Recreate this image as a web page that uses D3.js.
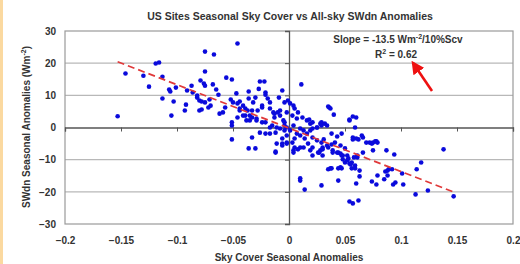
<!DOCTYPE html>
<html>
<head>
<meta charset="utf-8">
<script src="https://cdn.jsdelivr.net/npm/d3@7"></script>
<style>
  body { margin: 0; background: #fff; }
  svg { display: block; font-family: "Liberation Sans", Arial, sans-serif; }
  .tick text { font-weight: bold; fill: #333; }
</style>
</head>
<body>
<svg id="chart"></svg>
<script>
// *********************************************
// DATA
// *********************************************
var xTicks = [-0.2, -0.15, -0.1, -0.05, 0, 0.05, 0.1, 0.15, 0.2];
var yTicks = [-30, -20, -10, 0, 10, 20, 30];

// sky cover anomaly, SWdn anomaly
var skyCover = [
  -0.153,-0.146,-0.130,-0.125,-0.119,-0.116,-0.113,-0.113,-0.107,-0.106,-0.103,-0.105,-0.101,-0.092,-0.093,-0.091,-0.087,-0.086,-0.082,-0.080,-0.080,-0.079,
  -0.046,-0.075,-0.067,-0.075,-0.056,-0.051,-0.076,-0.075,-0.068,-0.065,-0.082,-0.078,-0.075,-0.071,-0.072,-0.078,-0.062,-0.059,-0.057,-0.052,-0.050,-0.047,-0.044,-0.041,-0.039,-0.036,-0.036,-0.032,-0.030,-0.026,-0.022,-0.021,-0.021,-0.019,-0.017,-0.024,-0.028,-0.033,-0.035,-0.044,-0.046,-0.039,-0.038,-0.051,-0.051,-0.029,-0.024,-0.017,-0.014,-0.013,-0.010,-0.008,-0.006,-0.004,-0.002,
  -0.033,-0.051,-0.036,-0.030,-0.012,-0.011,-0.006,-0.002,-0.026,-0.021,-0.017,-0.012,-0.015,-0.011,-0.008,
  -0.035,-0.033,-0.029,-0.037,-0.041,-0.044,-0.046,-0.021,-0.017,-0.005,-0.004,-0.008,-0.013,-0.024,
  0.011,-0.004,-0.001,0.001,0.004,0.005,0.008,0.036,0.037,0.057,0.054,0.059,0.038,0.047,0.057,0.060,0.065,0.069,0.072,0.079,
  0.028,0.029,0.025,0.021,0.019,0.010,0.013,0.016,0.010,-0.004,-0.002,-0.006,-0.002,0.003,0.005,
  0.021,0.025,0.029,0.030,0.028,0.035,0.039,0.043,0.046,0.048,0.050,0.054,0.037,0.038,0.044,0.047,0.056,0.059,0.056,0.063,0.010,
  -0.002,0.003,0.007,0.012,0.016,0.019,0.021,0.025,0.029,0.032,0.034,0.004,0.001,0.007,0.005,0.014,0.017,0.010,0.004,0.021,0.026,0.030,0.041,0.046,0.050,0.052,0.053,0.061,0.066,
  0.010,0.014,0.029,0.044,0.054,0.057,0.062,0.060,0.063,0.074,0.078,0.079,0.085,0.088,0.086,0.088,0.089,0.093,0.095,0.102,0.101,0.113,0.114,0.118,0.124,0.138,0.147,
  0.087,0.094,0.078,0.075,0.066,0.062,0.057,0.075,0.058,0.061,0.055,0.052,0.048,0.047,0.044,0.035,0.046,0.059,-0.012,-0.006,0.004,0.008,0.013,0.019,0.021,0.027,0.030,0.034,0.038,0.039,
  0.074,0.077,0.092,0.035,0.060,0.054,0.040,0.043,0.031,0.018,-0.009,-0.063,-0.070,-0.027
];
var swdn = [
  3.5,16.8,16.1,12.7,19.9,20.2,15.8,9.0,11.8,11.2,8.1,3.7,12.4,7.1,5.3,11.5,13.0,10.9,9.3,8.4,5.3,14.6,
  26.1,23.6,22.7,17.4,15.5,14.9,13.7,13.0,13.4,11.8,9.9,8.1,7.8,8.7,6.2,5.6,4.3,4.7,6.2,8.7,7.8,10.6,8.1,6.8,5.9,11.2,9.0,7.8,9.3,14.3,14.3,10.9,10.2,9.0,7.8,6.8,5.3,5.3,3.7,5.3,3.1,3.7,2.2,1.6,0.6,2.8,1.6,5.9,4.7,3.1,4.7,3.7,11.5,1.6,0.0,
  -3.1,-3.7,-6.5,-6.5,-7.8,-5.0,-5.0,-4.7,-1.6,-1.9,-1.9,-1.6,0.6,0.0,-0.3,
  2.2,3.1,2.2,5.3,3.7,5.9,7.5,1.6,0.0,2.2,-0.9,5.3,4.3,6.2,
  13.4,7.8,8.4,7.5,6.8,5.9,4.7,6.2,5.9,3.4,2.2,0.0,-1.9,-1.9,-3.1,-3.4,-2.5,-4.7,-4.7,-4.7,
  1.2,0.6,0.0,-0.3,-0.9,-0.3,-0.9,-1.9,-2.5,0.6,-2.5,-3.4,-5.0,-4.7,-6.2,
  -3.1,-4.0,-4.7,-6.2,-7.1,-6.2,-7.1,-7.8,-8.1,-8.7,-10.9,-11.2,-12.7,-12.7,-12.7,-12.7,-10.9,-11.8,-12.7,-13.4,-15.8,
  4.7,3.7,2.8,3.1,2.2,1.2,1.6,0.0,1.6,1.2,0.6,0.6,-0.9,-1.9,-3.4,-3.4,-5.0,-6.2,-7.1,-6.2,-7.8,-8.7,-4.7,-5.6,-6.5,-8.7,-9.6,-9.3,-7.8,
  -16.5,-19.3,-18.0,-16.5,-23.0,-23.6,-22.7,-17.4,-15.2,-16.8,-17.7,-14.9,-16.1,-14.9,-13.7,-13.4,-13.0,-17.7,-17.1,-17.7,-14.3,-20.8,-13.0,-10.9,-19.6,-6.8,-21.4,
  -7.1,-8.4,-4.3,-4.7,-3.1,-3.7,-3.7,-7.1,-9.3,-8.7,-11.5,-10.2,-9.9,-8.7,-7.8,-13.0,-12.4,-12.7,-7.5,-5.6,-7.8,-6.8,-6.2,-7.1,-8.7,-7.8,-6.8,-5.6,-5.3,-7.8,
  -5.0,-4.3,-13.0,6.5,3.1,2.5,4.0,-2.8,-3.7,2.5,9.3,10.2,6.8,12.0
];

// fitted line
var fitSlope = -135, fitIntercept = -0.2;
var fitRange = [-0.153, 0.148];

// *********************************************
// CHART SETUP
// *********************************************
var width = 520, height = 264;
var svg = d3.select("#chart").attr("width", width).attr("height", height);

svg.append("rect").attr("x", 0).attr("y", 0).attr("width", 3).attr("height", height).attr("fill", "#fbd9a0");

var x = d3.scaleLinear().domain([-0.2, 0.2]).range([65, 513]);
var y = d3.scaleLinear().domain([-30, 30]).range([224, 31]);

// gridlines
svg.append("g").selectAll("line")
    .data(yTicks.filter(d => d !== 0 && Math.abs(d) !== 30))
  .enter().append("line")
    .attr("x1", x(-0.2)).attr("x2", x(0.2))
    .attr("y1", d => y(d)).attr("y2", d => y(d))
    .attr("stroke", "#b8b8b8").attr("stroke-width", 1.2);

// plot frame
svg.append("rect")
    .attr("x", x(-0.2)).attr("y", y(30))
    .attr("width", x(0.2) - x(-0.2)).attr("height", y(-30) - y(30))
    .attr("fill", "none").attr("stroke", "#9a9a9a").attr("stroke-width", 1.2);

// axes through zero
var xAxis = svg.append("g")
    .attr("transform", "translate(0," + y(0) + ")")
    .call(d3.axisBottom(x).tickValues(xTicks).tickSize(4).tickFormat(""));
xAxis.select(".domain").attr("stroke", "#555").attr("stroke-width", 1.3);
xAxis.selectAll(".tick line").attr("stroke", "#555");

var yAxis = svg.append("g")
    .attr("transform", "translate(" + x(0) + ",0)")
    .call(d3.axisLeft(y).tickValues(yTicks).tickSize(4).tickFormat(""));
yAxis.select(".domain").attr("stroke", "#555").attr("stroke-width", 1.3);
yAxis.selectAll(".tick line").attr("stroke", "#555");

// tick labels along the frame
var xLab = svg.append("g")
    .attr("transform", "translate(0," + y(-30) + ")")
    .call(d3.axisBottom(x).tickValues(xTicks).tickSize(0).tickPadding(13).tickFormat(d3.format("")));
xLab.select(".domain").remove();
xLab.selectAll("text").attr("font-size", 10);

var yLab = svg.append("g")
    .attr("transform", "translate(" + x(-0.2) + ",0)")
    .call(d3.axisLeft(y).tickValues(yTicks).tickSize(0).tickPadding(9));
yLab.select(".domain").remove();
yLab.selectAll("text").attr("font-size", 10);

// points
var pts = skyCover.map((d, i) => [d, swdn[i]]);
svg.append("g").selectAll("circle")
    .data(pts)
  .enter().append("circle")
    .attr("cx", d => x(d[0])).attr("cy", d => y(d[1]))
    .attr("r", 2.3).attr("fill", "#0a0adc");

// regression line
svg.append("line")
    .attr("x1", x(fitRange[0])).attr("y1", y(fitSlope * fitRange[0] + fitIntercept))
    .attr("x2", x(fitRange[1])).attr("y2", y(fitSlope * fitRange[1] + fitIntercept))
    .attr("stroke", "#e0393a").attr("stroke-width", 1.7).attr("stroke-dasharray", "7,4");

// titles
svg.append("text").attr("x", 290).attr("y", 20).attr("text-anchor", "middle")
    .attr("font-size", 10.5).attr("font-weight", "bold").attr("fill", "#333")
    .text("US Sites Seasonal Sky Cover vs All-sky SWdn Anomalies");

svg.append("text").attr("x", 289).attr("y", 261).attr("text-anchor", "middle")
    .attr("font-size", 10).attr("font-weight", "bold").attr("fill", "#333")
    .text("Sky Cover Seasonal Anomalies");

var yt = svg.append("text")
    .attr("transform", "translate(30,127)rotate(-90)").attr("text-anchor", "middle")
    .attr("font-size", 10).attr("font-weight", "bold").attr("fill", "#333");
yt.append("tspan").text("SWdn Seasonal Anomalies (Wm");
yt.append("tspan").attr("dy", -4).attr("font-size", 7).text("-2");
yt.append("tspan").attr("dy", 4).text(")");

// annotation
var s1 = svg.append("text").attr("x", 398).attr("y", 43).attr("text-anchor", "middle")
    .attr("font-size", 10).attr("font-weight", "bold").attr("fill", "#333");
s1.append("tspan").text("Slope = -13.5 Wm");
s1.append("tspan").attr("dy", -4).attr("font-size", 7).text("-2");
s1.append("tspan").attr("dy", 4).text("/10%Scv");

var s2 = svg.append("text").attr("x", 396).attr("y", 58).attr("text-anchor", "middle")
    .attr("font-size", 10).attr("font-weight", "bold").attr("fill", "#333");
s2.append("tspan").text("R");
s2.append("tspan").attr("dy", -4).attr("font-size", 7).text("2");
s2.append("tspan").attr("dy", 4).text(" = 0.62");

// red arrow
svg.append("defs").append("marker")
    .attr("id", "head").attr("viewBox", "0 0 10 10").attr("refX", 8).attr("refY", 5)
    .attr("markerWidth", 5).attr("markerHeight", 5).attr("orient", "auto")
  .append("path").attr("d", "M0,0L10,5L0,10Z").attr("fill", "#ee1111");
svg.append("line")
    .attr("x1", 432).attr("y1", 91).attr("x2", 413).attr("y2", 63)
    .attr("stroke", "#ee1111").attr("stroke-width", 2.6).attr("marker-end", "url(#head)");
</script>
</body>
</html>
